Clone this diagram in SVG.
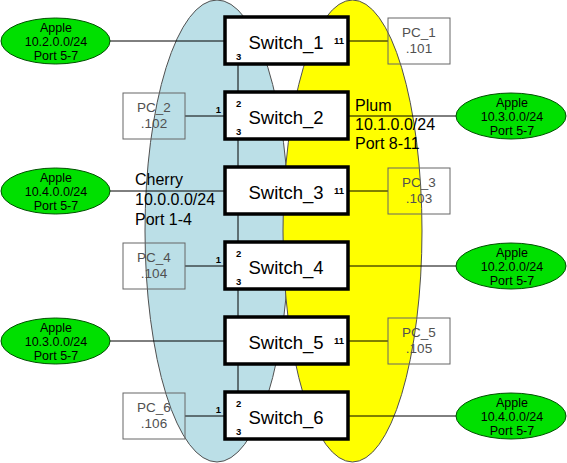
<svg xmlns="http://www.w3.org/2000/svg" width="567" height="463" viewBox="0 0 567 463">
<style>
text{font-family:"Liberation Sans",Arial,sans-serif}
.sw rect{fill:#fff;stroke:#000;stroke-width:3.5}
.sw text.n{font-size:18.5px;text-anchor:middle}
.p{font-size:9.5px;font-weight:bold}
.pc rect{fill:none;stroke:#666;stroke-width:1}
.pc text{font-size:13.5px;fill:#505050;text-anchor:middle}
.ap ellipse{fill:#00e000;stroke:#005000;stroke-width:1}
.ap text{font-size:12.5px;text-anchor:middle;fill:#000}
.lbl{font-size:16px}
.c line{stroke:#000;stroke-width:1}
</style>
<g id="zones">
<ellipse id="cherry-zone" cx="217" cy="231" rx="72" ry="231" fill="#bbdfe7" stroke="#505050" stroke-width="1"/>
<ellipse id="plum-zone" cx="352.5" cy="231" rx="69.5" ry="231" fill="#ffff00" stroke="#505050" stroke-width="1"/>
</g>
<g id="connectors" class="c">
<line x1="238" y1="64" x2="238" y2="392"/>
<line x1="110" y1="41" x2="225" y2="41"/>
<line x1="348" y1="41" x2="388" y2="41"/>
<line x1="185" y1="116" x2="225" y2="116"/>
<line x1="348" y1="116" x2="456" y2="116"/>
<line x1="110" y1="191" x2="225" y2="191"/>
<line x1="348" y1="191" x2="388" y2="191"/>
<line x1="185" y1="266" x2="225" y2="266"/>
<line x1="348" y1="266" x2="456" y2="266"/>
<line x1="110" y1="341" x2="225" y2="341"/>
<line x1="348" y1="341" x2="388" y2="341"/>
<line x1="185" y1="416" x2="225" y2="416"/>
<line x1="348" y1="416" x2="456" y2="416"/>
</g>
<g id="switch1" class="sw"><rect x="225" y="17" width="123" height="47"/><text class="n" x="286" y="48.5">Switch_1</text><text class="p" x="236" y="60">3</text><text class="p" x="344" y="44" text-anchor="end">11</text></g>
<g id="switch2" class="sw"><rect x="225" y="92" width="123" height="47"/><text class="n" x="286" y="123.5">Switch_2</text><text class="p" x="236" y="107">2</text><text class="p" x="236" y="135">3</text><text class="p" x="221" y="113" text-anchor="end">1</text></g>
<g id="switch3" class="sw"><rect x="225" y="167" width="123" height="47"/><text class="n" x="286" y="198.5">Switch_3</text><text class="p" x="344" y="194" text-anchor="end">11</text></g>
<g id="switch4" class="sw"><rect x="225" y="242" width="123" height="47"/><text class="n" x="286" y="273.5">Switch_4</text><text class="p" x="236" y="257">2</text><text class="p" x="236" y="285">3</text><text class="p" x="221" y="263" text-anchor="end">1</text></g>
<g id="switch5" class="sw"><rect x="225" y="317" width="123" height="47"/><text class="n" x="286" y="348.5">Switch_5</text><text class="p" x="344" y="344" text-anchor="end">11</text></g>
<g id="switch6" class="sw"><rect x="225" y="392" width="123" height="47"/><text class="n" x="286" y="423.5">Switch_6</text><text class="p" x="236" y="407">2</text><text class="p" x="236" y="435">3</text><text class="p" x="221" y="413" text-anchor="end">1</text></g>
<g id="pc1" class="pc"><rect x="388" y="18" width="62" height="46"/><text x="419" y="37">PC_1</text><text x="419" y="53">.101</text></g>
<g id="pc2" class="pc"><rect x="123" y="93" width="62" height="46"/><text x="154" y="112">PC_2</text><text x="154" y="128">.102</text></g>
<g id="pc3" class="pc"><rect x="388" y="168" width="62" height="46"/><text x="419" y="187">PC_3</text><text x="419" y="203">.103</text></g>
<g id="pc4" class="pc"><rect x="123" y="243" width="62" height="46"/><text x="154" y="262">PC_4</text><text x="154" y="278">.104</text></g>
<g id="pc5" class="pc"><rect x="388" y="318" width="62" height="46"/><text x="419" y="337">PC_5</text><text x="419" y="353">.105</text></g>
<g id="pc6" class="pc"><rect x="123" y="393" width="62" height="46"/><text x="154" y="412">PC_6</text><text x="154" y="428">.106</text></g>
<g id="apple-l1" class="ap"><ellipse cx="55.5" cy="41" rx="54.5" ry="23"/><text x="56" y="32">Apple</text><text x="56" y="46">10.2.0.0/24</text><text x="56" y="60">Port 5-7</text></g>
<g id="apple-l2" class="ap"><ellipse cx="55.5" cy="191" rx="54.5" ry="23"/><text x="56" y="182">Apple</text><text x="56" y="196">10.4.0.0/24</text><text x="56" y="210">Port 5-7</text></g>
<g id="apple-l3" class="ap"><ellipse cx="55.5" cy="341" rx="54.5" ry="23"/><text x="56" y="332">Apple</text><text x="56" y="346">10.3.0.0/24</text><text x="56" y="360">Port 5-7</text></g>
<g id="apple-r1" class="ap"><ellipse cx="511" cy="116" rx="55" ry="23"/><text x="512" y="107">Apple</text><text x="512" y="121">10.3.0.0/24</text><text x="512" y="135">Port 5-7</text></g>
<g id="apple-r2" class="ap"><ellipse cx="511" cy="266" rx="55" ry="23"/><text x="512" y="257">Apple</text><text x="512" y="271">10.2.0.0/24</text><text x="512" y="285">Port 5-7</text></g>
<g id="apple-r3" class="ap"><ellipse cx="511" cy="416" rx="55" ry="23"/><text x="512" y="407">Apple</text><text x="512" y="421">10.4.0.0/24</text><text x="512" y="435">Port 5-7</text></g>
<g id="labels">
<text class="lbl" x="135" y="185">Cherry</text>
<text class="lbl" x="135" y="205">10.0.0.0/24</text>
<text class="lbl" x="135" y="225">Port 1-4</text>
<text class="lbl" x="355" y="111">Plum</text>
<text class="lbl" x="355" y="130">10.1.0.0/24</text>
<text class="lbl" x="355" y="149">Port 8-11</text>
</g>
</svg>
